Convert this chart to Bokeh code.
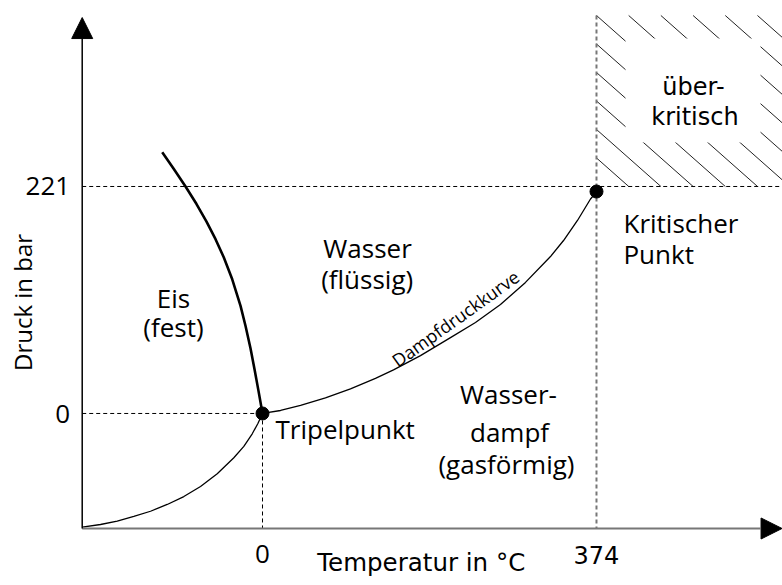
from bokeh.plotting import figure
from bokeh.models import Range1d, Arrow, NormalHead
from bokeh.core.properties import value
from bokeh.embed import file_html
from bokeh.resources import INLINE
import math

# ---------------- data (schematic temperature / pressure units) ----------------
sub_t = [-201.9, -181.4, -162.7, -144.1, -125.4, -106.7, -88.1, -69.4,
         -50.7, -32.1, -20.9, -11.5, -5.3, 0.0]
sub_p = [-110.7, -108.1, -104.9, -100.3, -95.2, -88.6, -80.9, -71.1,
         -58.7, -43.1, -32.1, -19.8, -10.0, 0.0]

melt_t = [-112.3, -99.3, -86.2, -73.9, -62.7, -52.6, -43.3, -33.9,
          -24.6, -19.0, -13.4, -9.0, -4.5, 0.0]
melt_p = [254.4, 238.0, 221.0, 203.9, 186.8, 169.7, 151.9, 130.6,
          104.8, 85.2, 63.3, 43.4, 22.0, 0.0]

vap_t = [0.0, 20.2, 42.6, 70.5, 98.5, 126.5, 146.7, 176.9, 210.5, 238.5,
         266.5, 294.5, 322.5, 337.1, 352.7, 367.3, 374.0]
vap_p = [0.0, 2.9, 7.8, 15.1, 23.9, 34.1, 42.4, 56.3, 73.8, 88.6,
         106.1, 127.6, 152.8, 168.4, 187.9, 208.8, 215.6]

point_t = [0.0, 374.0]
point_p = [0.0, 216.1]

x_ticks = [0, 374]
x_tick_labels = ["0", "374"]
y_ticks = [0, 221]
y_tick_labels = ["0", "221"]

# ---------------- figure ----------------
X0, X1 = -293.4, 582.3
Y0, Y1 = -167.5, 402.1
KX = 374.0 / 334.0   # data units per pixel (x)
KY = 221.0 / 227.0   # data units per pixel (y)

AX_X = -201.9        # position of the vertical axis
AX_Y = -112.0        # position of the horizontal axis
TOP = 387.5          # top of the supercritical region

p = figure(width=782, height=585, output_backend="svg", toolbar_location=None,
           x_range=Range1d(X0, X1), y_range=Range1d(Y0, Y1),
           x_axis_type=None, y_axis_type=None,
           min_border=0, min_border_left=0, min_border_right=0,
           min_border_top=0, min_border_bottom=0)
p.grid.visible = False
p.outline_line_color = None
p.background_fill_color = "white"
p.border_fill_color = "white"

# ---------------- hatched supercritical region ----------------
slope = 0.885
step = 32.2
W = (X1 - 374.0) / KX
H = (TOP - y_ticks[1]) / KY
hx0, hy0, hx1, hy1 = [], [], [], []
k_min = math.ceil(-(H / slope) / step)
k_max = math.floor(W / step)
for k in range(k_min, k_max + 1):
    c = k * step
    u0 = max(c, 0.0)
    u1 = min(W, c + H / slope)
    if u1 <= u0:
        continue
    v0 = slope * (u0 - c)
    v1 = slope * (u1 - c)
    hx0.append(374.0 + u0 * KX)
    hy0.append(TOP - v0 * KY)
    hx1.append(374.0 + u1 * KX)
    hy1.append(TOP - v1 * KY)
p.segment(x0=hx0, y0=hy0, x1=hx1, y1=hy1, line_color="#222222", line_width=1)

# white box behind the "über-kritisch" text
p.quad(left=[406.5], right=[557.7], bottom=[263.8], top=[365.1],
       fill_color="white", line_color=None)

# ---------------- dashed guide lines ----------------
p.segment(x0=[AX_X, AX_X], y0=[y_ticks[1], y_ticks[0]],
          x1=[X1, point_t[0]], y1=[y_ticks[1], y_ticks[0]],
          line_color="black", line_width=1, line_dash="4 3")
p.segment(x0=[x_ticks[0]], y0=[point_p[0]], x1=[x_ticks[0]], y1=[AX_Y],
          line_color="black", line_width=1, line_dash="4 3")
p.segment(x0=[x_ticks[1]], y0=[TOP], x1=[x_ticks[1]], y1=[AX_Y],
          line_color="#777777", line_width=2, line_dash="4 3")

# ---------------- axes with arrows ----------------
p.add_layout(Arrow(x_start=AX_X, y_start=AX_Y, x_end=X1 - 0.5, y_end=AX_Y,
                   line_color="#777777", line_width=2,
                   end=NormalHead(size=21, fill_color="black", line_color="black", line_width=1)))
p.add_layout(Arrow(x_start=AX_X, y_start=AX_Y, x_end=AX_X, y_end=385.5,
                   line_color="black", line_width=1.5,
                   end=NormalHead(size=21, fill_color="black", line_color="black", line_width=1)))

# ---------------- phase boundary curves ----------------
p.line(sub_t, sub_p, line_color="black", line_width=1.3, line_join="round")
p.line(vap_t, vap_p, line_color="black", line_width=1.3, line_join="round")
p.line(melt_t, melt_p, line_color="black", line_width=2.6, line_join="round")
p.scatter(point_t, point_p, size=13, marker="circle", fill_color="black", line_color="black")

# ---------------- texts ----------------
OS = value("Open Sans")
DV = value("DejaVu Sans")

# tick labels
p.text(x=[AX_X - 12.0 * KX] * 2, y=[-0.5, 221.5], text=y_tick_labels,
       text_font=OS, text_font_size=value("26px"), text_align="right",
       text_baseline="alphabetic", text_color="black")
p.text(x=[x_ticks[0]], y=[-136.8], text=[x_tick_labels[0]],
       text_font=OS, text_font_size=value("26px"), text_align="center",
       text_baseline="alphabetic", text_color="black")
p.text(x=[x_ticks[1]], y=[-138.2], text=[x_tick_labels[1]],
       text_font=DV, text_font_size=value("24px"), text_align="center",
       text_baseline="alphabetic", text_color="black")

# axis titles
p.text(x=[177.8], y=[-144.7], text=["Temperatur in °C"],
       text_font=DV, text_font_size=value("24.5px"), text_align="center",
       text_baseline="alphabetic", text_color="black")
p.text(x=[-268.7], y=[108.1], text=["Druck in bar"], angle=math.pi / 2,
       text_font=OS, text_font_size=value("24px"), text_align="center",
       text_baseline="alphabetic", text_color="black")

# region labels (centered)
p.text(x=[-99.7, -99.7, 117.6, 117.2, 275.5, 276.6, 273.2],
       y=[112.8, 84.3, 161.5, 130.7, 19.0, -18.2, -49.5],
       text=["Eis", "(fest)", "Wasser", "(flüssig)", "Wasser-", "dampf", "(gasförmig)"],
       text_font=OS, text_font_size=value("26px"), text_align="center",
       text_baseline="alphabetic", text_color="black")

# point labels (left aligned)
p.text(x=[14.6, 404.2, 404.2], y=[-15.1, 185.8, 155.0],
       text=["Tripelpunkt", "Kritischer", "Punkt"],
       text_font=OS, text_font_size=value("26px"), text_align="left",
       text_baseline="alphabetic", text_color="black")

# supercritical label
p.text(x=[482.6, 484.3], y=[317.4, 288.2], text=["über-", "kritisch"],
       text_font=DV, text_font_size=value("24px"), text_align="center",
       text_baseline="alphabetic", text_color="black")

# curve label
p.text(x=[216.1], y=[92.5], text=["Dampfdruckkurve"], angle=0.62,
       text_font=OS, text_font_size=value("18px"), text_align="center",
       text_baseline="middle", text_color="black")

open("out.html", "w").write(file_html(p, INLINE))
